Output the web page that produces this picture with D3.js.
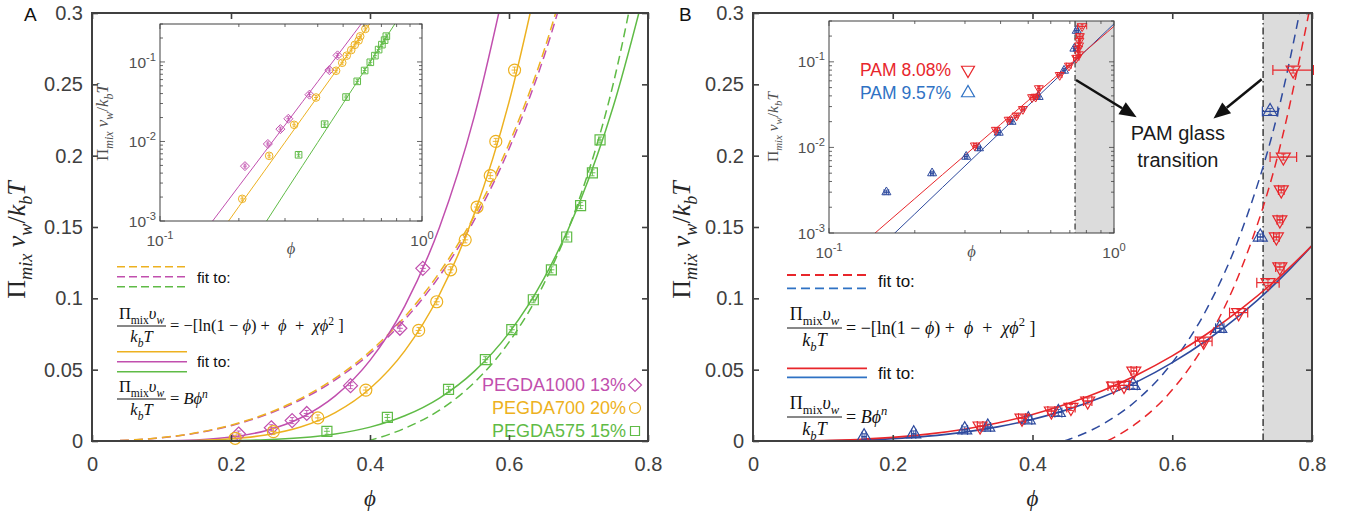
<!DOCTYPE html>
<html>
<head>
<meta charset="utf-8">
<script src="https://cdn.jsdelivr.net/npm/d3@7/dist/d3.min.js"></script>
<style>
  body { margin: 0; background: #fff; }
  svg { display: block; }
  text { white-space: pre; }
</style>
</head>
<body>
<svg id="chart" width="1351" height="512"></svg>
<script>
// ---------- axis ticks ----------
const xTicks = [0, 0.2, 0.4, 0.6, 0.8];
const xTickLabels = ['0', '0.2', '0.4', '0.6', '0.8'];
const yTicks = [0, 0.05, 0.1, 0.15, 0.2, 0.25, 0.3];
const yTickLabels = ['0', '0.05', '0.1', '0.15', '0.2', '0.25', '0.3'];

// ---------- panel A : measured points ----------
const pegda1000Phi = [0.211, 0.258, 0.288, 0.309, 0.372, 0.443, 0.476];
const pegda1000Pi  = [0.0049, 0.0093, 0.0143, 0.0193, 0.0388, 0.0790, 0.1210];
const pegda700Phi  = [0.206, 0.261, 0.325, 0.394, 0.470, 0.496, 0.516, 0.537, 0.554, 0.573, 0.581, 0.608];
const pegda700Pi   = [0.0019, 0.0066, 0.0162, 0.0357, 0.0775, 0.0976, 0.1200, 0.1410, 0.1640, 0.1860, 0.2100, 0.2600];
const pegda575Phi  = [0.338, 0.425, 0.513, 0.566, 0.604, 0.635, 0.661, 0.683, 0.703, 0.720, 0.731];
const pegda575Pi   = [0.0068, 0.0165, 0.0362, 0.0570, 0.0780, 0.0990, 0.1200, 0.1430, 0.1650, 0.1880, 0.2110];

// panel A : fit curves
const fitGridA     = [0, 0.05, 0.1, 0.15, 0.2, 0.25, 0.3, 0.35, 0.4, 0.45, 0.5, 0.55, 0.6, 0.65, 0.7, 0.75, 0.8];
const pegda1000Pow = [0, 0.000006, 0.00013, 0.00078, 0.00274, 0.00725, 0.0161, 0.0316, 0.0565, 0.0946, 0.1499, 0.2274, 0.3326];
const pegda700Pow  = [0, 0.0000026, 0.000063, 0.0004, 0.00152, 0.00423, 0.00978, 0.0199, 0.0368, 0.0632, 0.1027, 0.1592, 0.2375, 0.3432];
const pegda575Pow  = [0, 0.00000026, 0.0000087, 0.000068, 0.00029, 0.0009, 0.00228, 0.00496, 0.00974, 0.01768, 0.03013, 0.0488, 0.0758, 0.1137, 0.1653, 0.2344, 0.325];
const pegda1000FH  = [0, 0.00052, 0.00226, 0.00554, 0.01074, 0.01831, 0.02877, 0.04281, 0.06123, 0.08506, 0.11565, 0.15474, 0.20469, 0.26885, 0.35207];
const pegda700FH   = [0, 0.00054, 0.00236, 0.00577, 0.01114, 0.01893, 0.02967, 0.04403, 0.06283, 0.08709, 0.11815, 0.15776, 0.20829, 0.27307, 0.35697];
const pegda575FHPhi = [0.397, 0.45, 0.5, 0.55, 0.6, 0.65, 0.7, 0.75, 0.8];
const pegda575FH    = [0, 0.0089, 0.0216, 0.041, 0.0693, 0.11, 0.1679, 0.2504, 0.3704];

// ---------- panel B : measured points ----------
const pam808Phi  = [0.325, 0.385, 0.427, 0.455, 0.479, 0.516, 0.531, 0.545, 0.645, 0.695, 0.737, 0.754, 0.749, 0.754, 0.756, 0.759, 0.773];
const pam808Pi   = [0.0105, 0.016, 0.021, 0.0235, 0.028, 0.0385, 0.039, 0.049, 0.070, 0.090, 0.111, 0.122, 0.143, 0.155, 0.176, 0.199, 0.260];
const pam808Err  = [0.004, 0.005, 0.005, 0.006, 0.006, 0.008, 0.008, 0.004, 0.012, 0.013, 0.016, 0.006, 0.004, 0.004, 0.004, 0.019, 0.029];
const pam957Phi  = [0.159, 0.230, 0.303, 0.336, 0.394, 0.437, 0.544, 0.668, 0.726, 0.740];
const pam957Pi   = [0.003, 0.005, 0.0078, 0.0098, 0.0149, 0.020, 0.039, 0.079, 0.143, 0.231];
const pam957Err  = [0.003, 0.003, 0.004, 0.004, 0.005, 0.005, 0.006, 0.006, 0.004, 0.011];

// panel B : fit curves
const fitGridB   = [0.05, 0.1, 0.15, 0.2, 0.25, 0.3, 0.35, 0.4, 0.45, 0.5, 0.55, 0.6, 0.65, 0.7, 0.75, 0.8, 0.85, 0.9, 0.95, 1.0];
const pam808Pow  = [0.000046, 0.00034, 0.0011, 0.00252, 0.0048, 0.0081, 0.01265, 0.01857, 0.0261, 0.0353, 0.0465, 0.0597, 0.0752, 0.0931, 0.1135, 0.137, 0.1628, 0.192, 0.2243, 0.26];
const pam957Pow  = [0.000021, 0.000185, 0.00067, 0.00167, 0.0034, 0.00607, 0.0099, 0.01514, 0.022, 0.0308, 0.0416, 0.0549, 0.0708, 0.0895, 0.1115, 0.137, 0.1659, 0.199, 0.2362, 0.278];
const pam808FHPhi = [0.507, 0.52, 0.55, 0.6, 0.65, 0.7, 0.75, 0.8];
const pam808FH    = [0, 0.0033, 0.01286, 0.03585, 0.07069, 0.12226, 0.1981, 0.31088];
const pam957FHPhi = [0.445, 0.45, 0.5, 0.55, 0.6, 0.65, 0.7, 0.75, 0.8];
const pam957FH    = [0, 0.0008, 0.01165, 0.02889, 0.05493, 0.09308, 0.14823, 0.22791, 0.3448];
const glassPhi = 0.73;

// ---------- styles ----------
const SANS = "'Liberation Sans', Arial, Helvetica, sans-serif";
const SERIF = "'Liberation Serif', 'DejaVu Serif', 'Times New Roman', serif";
const AX = '#404040';
const COL = {
    magenta: '#C14FAE', yellow: '#EDB120', green: '#5FBB46',
    red: '#E8262B', blue: '#2E4A9E', blueLeg: '#2F72C4', shade: '#DCDCDC'
};

const svg = d3.select('#chart');
const defs = svg.append('defs');

// ---------- helpers ----------
const zip = (xs, ys) => ys.map((v, i) => [xs[i], v]);

function addClip(id, w, h) {
    defs.append('clipPath').attr('id', id).append('rect').attr('width', w).attr('height', h);
}

function markerPath(shape, s) {
    const t = s * 0.577;
    switch (shape) {
        case 'diamond': return `M0,${-s}L${s},0L0,${s}L${-s},0Z`;
        case 'circle': return `M${-s},0A${s},${s} 0 1,0 ${s},0A${s},${s} 0 1,0 ${-s},0Z`;
        case 'square': return `M${-s},${-s}H${s}V${s}H${-s}Z`;
        case 'down': return `M${-s},${-t}L${s},${-t}L0,${2 * t}Z`;
        case 'up': return `M${-s},${t}L${s},${t}L0,${-2 * t}Z`;
    }
}

// text made of pieces: [string, {it, sub, sup}]
function mathText(t, parts, fs) {
    let shift = 0;
    parts.forEach(([s, o = {}]) => {
        const target = o.sub ? fs * 0.28 : o.sup ? -fs * 0.42 : 0;
        const sp = t.append('tspan').attr('dy', target - shift).text(s);
        shift = target;
        if (o.it) sp.attr('font-style', 'italic');
        if (o.sub || o.sup) sp.attr('font-size', fs * 0.7);
    });
}

const labelParts = [['Π'], ['mix', { it: 1, sub: 1 }], [' '], ['v', { it: 1 }], ['w', { it: 1, sub: 1 }],
                    ['/'], ['k', { it: 1 }], ['b', { it: 1, sub: 1 }], ['T', { it: 1 }]];

function rotatedLabel(g, cx, cy, fs, color) {
    const t = g.append('text')
        .attr('transform', `translate(${cx},${cy}) rotate(-90)`)
        .attr('text-anchor', 'middle')
        .attr('font-family', SERIF)
        .attr('font-size', fs)
        .attr('fill', color);
    mathText(t, labelParts, fs);
}

function drawCurve(g, x, y, pts, color, dash, lw) {
    g.append('path')
        .datum(pts)
        .attr('fill', 'none')
        .attr('stroke', color)
        .attr('stroke-width', lw || 1.5)
        .attr('stroke-dasharray', dash || null)
        .attr('d', d3.line().x(d => x(d[0])).y(d => y(d[1])).curve(d3.curveMonotoneX));
}

function drawPoints(g, x, y, phi, val, o) {
    const pts = val.map((v, i) => ({
        px: x(phi[i]), py: y(v),
        lo: o.xerr ? x(phi[i] - o.xerr[i]) : 0,
        hi: o.xerr ? x(phi[i] + o.xerr[i]) : 0
    }));
    const gg = g.append('g').attr('stroke', o.color).attr('fill', 'none').attr('stroke-width', o.lw || 1.2);
    const c = o.cross;
    if (o.xerr) {
        const cap = o.cap || 4;
        gg.selectAll('line.eh').data(pts).join('line').attr('class', 'eh')
            .attr('x1', d => d.lo).attr('x2', d => d.hi).attr('y1', d => d.py).attr('y2', d => d.py);
        gg.selectAll('line.cl').data(pts).join('line').attr('class', 'cl')
            .attr('x1', d => d.lo).attr('x2', d => d.lo).attr('y1', d => d.py - cap).attr('y2', d => d.py + cap);
        gg.selectAll('line.cr').data(pts).join('line').attr('class', 'cr')
            .attr('x1', d => d.hi).attr('x2', d => d.hi).attr('y1', d => d.py - cap).attr('y2', d => d.py + cap);
    }
    if (c) {
        gg.selectAll('path.cr').data(pts).join('path').attr('class', 'cr')
            .attr('d', d => `M${d.px - c},${d.py}H${d.px + c}M${d.px},${d.py - c}V${d.py + c}` +
                            `M${d.px - c * 0.7},${d.py - c}H${d.px + c * 0.7}M${d.px - c * 0.7},${d.py + c}H${d.px + c * 0.7}`)
            .attr('stroke-width', 0.9);
    }
    gg.selectAll('path.m').data(pts).join('path').attr('class', 'm')
        .attr('transform', d => `translate(${d.px},${d.py})`)
        .attr('d', markerPath(o.shape, o.size));
}

function mainAxes(g, x, y, w, h) {
    const style = a => {
        a.select('.domain').remove();
        a.selectAll('line').attr('stroke', AX).attr('stroke-width', 1.6);
        a.selectAll('text').attr('font-family', SANS).attr('font-size', 20).attr('fill', AX);
    };
    g.append('g').attr('transform', `translate(0,${h})`)
        .call(d3.axisBottom(x).tickValues(xTicks).tickFormat(d => xTickLabels[xTicks.indexOf(d)])
            .tickSize(-6).tickSizeOuter(0).tickPadding(16))
        .call(style);
    g.append('g')
        .call(d3.axisTop(x).tickValues(xTicks).tickFormat('').tickSize(-6).tickSizeOuter(0))
        .call(style);
    g.append('g')
        .call(d3.axisLeft(y).tickValues(yTicks).tickFormat(d => yTickLabels[yTicks.indexOf(d)])
            .tickSize(-6).tickSizeOuter(0).tickPadding(9))
        .call(style);
    g.append('g').attr('transform', `translate(${w},0)`)
        .call(d3.axisRight(y).tickValues(yTicks).tickFormat('').tickSize(-6).tickSizeOuter(0))
        .call(style);
    g.append('rect').attr('width', w).attr('height', h)
        .attr('fill', 'none').attr('stroke', AX).attr('stroke-width', 2);
}

function logAxes(g, x, y, w, h, o) {
    const isMajor = d => Math.abs(Math.log10(d) - Math.round(Math.log10(d))) < 1e-9;
    const tk = g.append('g').attr('stroke', AX).attr('stroke-width', 0.8);
    x.ticks().forEach(d => {
        const L = isMajor(d) ? 5 : 3;
        tk.append('line').attr('x1', x(d)).attr('x2', x(d)).attr('y1', h).attr('y2', h - L);
        tk.append('line').attr('x1', x(d)).attr('x2', x(d)).attr('y1', 0).attr('y2', L);
    });
    y.ticks().forEach(d => {
        const L = isMajor(d) ? 5 : 3;
        tk.append('line').attr('y1', y(d)).attr('y2', y(d)).attr('x1', 0).attr('x2', L);
        tk.append('line').attr('y1', y(d)).attr('y2', y(d)).attr('x1', w).attr('x2', w - L);
    });
    g.append('rect').attr('width', w).attr('height', h)
        .attr('fill', 'none').attr('stroke', AX).attr('stroke-width', 1);

    const pow10 = (t, d) => {
        t.append('tspan').text('10');
        t.append('tspan').attr('dy', -o.fs * 0.45).attr('font-size', o.fs * 0.72)
            .text(String(Math.round(Math.log10(d))));
    };
    const labs = g.append('g').attr('font-family', SANS).attr('font-size', o.fs).attr('fill', '#505050');
    y.ticks().filter(isMajor).forEach(d => {
        pow10(labs.append('text').attr('x', -4).attr('y', y(d) + o.fs * 0.36).attr('text-anchor', 'end'), d);
    });
    x.ticks().filter(isMajor).forEach(d => {
        pow10(labs.append('text').attr('x', x(d)).attr('y', h + o.xlab).attr('text-anchor', 'middle'), d);
    });
    g.append('text').attr('x', w / 2).attr('y', h + o.philab).attr('text-anchor', 'middle')
        .attr('font-family', SERIF).attr('font-style', 'italic').attr('font-size', o.fs + 1)
        .attr('fill', '#505050').text('ϕ');
    rotatedLabel(g, o.ylab, h / 2, o.lfs, '#505050');
}

function fraction(g, x0, yBar, barW, fs, rhs) {
    const tx = g.append('g').attr('font-family', SERIF).attr('font-size', fs).attr('fill', '#111');
    const num = tx.append('text').attr('x', x0 + barW / 2).attr('y', yBar - fs * 0.42).attr('text-anchor', 'middle');
    mathText(num, [['Π'], ['mix', { sub: 1 }], ['υ', { it: 1 }], ['w', { it: 1, sub: 1 }]], fs);
    tx.append('line').attr('x1', x0).attr('x2', x0 + barW).attr('y1', yBar).attr('y2', yBar)
        .attr('stroke', '#111').attr('stroke-width', 1);
    const den = tx.append('text').attr('x', x0 + barW / 2).attr('y', yBar + fs * 0.98).attr('text-anchor', 'middle');
    mathText(den, [['k', { it: 1 }], ['b', { it: 1, sub: 1 }], ['T', { it: 1 }]], fs);
    const r = tx.append('text').attr('x', x0 + barW + 4).attr('y', yBar + fs * 0.33);
    mathText(r, rhs, fs);
}

const rhsFH = [['= −[ln(1 − '], ['ϕ', { it: 1 }], [') +  '], ['ϕ', { it: 1 }], ['  +  '],
               ['χϕ', { it: 1 }], ['2', { sup: 1 }], [' ]']];
const rhsPow = [['= '], ['Bϕ', { it: 1 }], ['n', { it: 1, sup: 1 }]];

function legendLines(g, x0, len, ys, colors, dash, lw) {
    ys.forEach((yy, i) => {
        g.append('line').attr('x1', x0).attr('x2', x0 + len).attr('y1', yy).attr('y2', yy)
            .attr('stroke', colors[i]).attr('stroke-width', lw || 1.5).attr('stroke-dasharray', dash || null);
    });
}

function fitTo(g, x, y, fs) {
    g.append('text').attr('x', x).attr('y', y).attr('font-family', SANS).attr('font-size', fs)
        .attr('fill', '#111').text('fit to:');
}

function arrow(g, x1, y1, x2, y2) {
    const a = Math.atan2(y2 - y1, x2 - x1), L = 17, W = 7;
    const bx = x2 - L * Math.cos(a), by = y2 - L * Math.sin(a);
    g.append('line').attr('x1', x1).attr('y1', y1).attr('x2', bx).attr('y2', by)
        .attr('stroke', '#111').attr('stroke-width', 2.5);
    g.append('path')
        .attr('d', `M${x2},${y2}L${bx + W * Math.sin(a)},${by - W * Math.cos(a)}L${bx - W * Math.sin(a)},${by + W * Math.cos(a)}Z`)
        .attr('fill', '#111');
}

// =================== PANEL A ===================
const A = { left: 92, top: 13, w: 556, h: 428 };
const gA = svg.append('g').attr('transform', `translate(${A.left},${A.top})`);
const xA = d3.scaleLinear().domain([0, 0.8]).range([0, A.w]);
const yA = d3.scaleLinear().domain([0, 0.3]).range([A.h, 0]);
addClip('clipA', A.w, A.h);

const seriesA = [
    { phi: pegda1000Phi, val: pegda1000Pi, pow: pegda1000Pow, fh: pegda1000FH, fhPhi: fitGridA,
      color: COL.magenta, shape: 'diamond', size: 7, isize: 4.5, label: 'PEGDA1000 13%' },
    { phi: pegda700Phi, val: pegda700Pi, pow: pegda700Pow, fh: pegda700FH, fhPhi: fitGridA,
      color: COL.yellow, shape: 'circle', size: 6, isize: 3.8, label: 'PEGDA700 20%' },
    { phi: pegda575Phi, val: pegda575Pi, pow: pegda575Pow, fh: pegda575FH, fhPhi: pegda575FHPhi,
      color: COL.green, shape: 'square', size: 5, isize: 3.3, label: 'PEGDA575 15%' }
];

const plotA = gA.append('g').attr('clip-path', 'url(#clipA)');
seriesA.forEach(s => drawCurve(plotA, xA, yA, zip(s.fhPhi, s.fh), s.color, '9,5'));
seriesA.forEach(s => drawCurve(plotA, xA, yA, zip(fitGridA, s.pow), s.color, null));
seriesA.forEach(s => drawPoints(gA, xA, yA, s.phi, s.val, { color: s.color, shape: s.shape, size: s.size, cross: 3 }));

// fit legend (left)
legendLines(gA, 25, 70, [253.7, 263.7, 273.7], [COL.yellow, COL.magenta, COL.green], '8,4');
fitTo(gA, 105, 270, 15.5);
fraction(gA, 25, 313, 49, 16.5, rhsFH);
legendLines(gA, 25, 70, [338.7, 348.7, 358.7], [COL.yellow, COL.magenta, COL.green]);
fitTo(gA, 105, 354, 15.5);
fraction(gA, 25, 386, 49, 16.5, rhsPow);

// series legend (bottom right)
seriesA.forEach((s, i) => {
    const yy = 372 + i * 23;
    gA.append('text').attr('x', 534).attr('y', yy + 6).attr('text-anchor', 'end')
        .attr('font-family', SANS).attr('font-size', 18).attr('fill', s.color).text(s.label);
    gA.append('path').attr('transform', `translate(543,${yy})`).attr('d', markerPath(s.shape, s.size - 0.5))
        .attr('fill', 'none').attr('stroke', s.color).attr('stroke-width', 1.2);
});

mainAxes(gA, xA, yA, A.w, A.h);

// inset A
const IA = { left: 68, top: 11, w: 262, h: 197 };
const gIA = gA.append('g').attr('transform', `translate(${IA.left},${IA.top})`);
gIA.append('rect').attr('width', IA.w).attr('height', IA.h).attr('fill', '#fff');
const xIA = d3.scaleLog().domain([0.1, 1]).range([0, IA.w]);
const yIA = d3.scaleLog().domain([1e-3, 0.3]).range([IA.h, 0]);
addClip('clipIA', IA.w, IA.h);
const plotIA = gIA.append('g').attr('clip-path', 'url(#clipIA)');
seriesA.forEach(s => drawCurve(plotIA, xIA, yIA, zip(fitGridA, s.pow).filter(d => d[1] > 0), s.color, null, 1));
seriesA.forEach(s => drawPoints(gIA, xIA, yIA, s.phi, s.val, { color: s.color, shape: s.shape, size: s.isize, cross: 2, lw: 1 }));
logAxes(gIA, xIA, yIA, IA.w, IA.h, { fs: 15.5, xlab: 25, philab: 33, ylab: -52, lfs: 17 });

rotatedLabel(svg, 25, 240, 26, '#262626');
svg.append('text').attr('x', A.left + A.w / 2).attr('y', 506).attr('text-anchor', 'middle')
    .attr('font-family', SERIF).attr('font-style', 'italic').attr('font-size', 23).attr('fill', '#262626').text('ϕ');
svg.append('text').attr('x', 24).attr('y', 21).attr('font-family', SANS).attr('font-size', 19).attr('fill', '#111').text('A');

// =================== PANEL B ===================
const B = { left: 753, top: 13, w: 559, h: 428 };
const gB = svg.append('g').attr('transform', `translate(${B.left},${B.top})`);
const xB = d3.scaleLinear().domain([0, 0.8]).range([0, B.w]);
const yB = d3.scaleLinear().domain([0, 0.3]).range([B.h, 0]);
addClip('clipB', B.w, B.h);

const seriesB = [
    { phi: pam808Phi, val: pam808Pi, err: pam808Err, pow: pam808Pow, fh: pam808FH, fhPhi: pam808FHPhi,
      color: COL.red, leg: COL.red, shape: 'down', label: 'PAM 8.08%' },
    { phi: pam957Phi, val: pam957Pi, err: pam957Err, pow: pam957Pow, fh: pam957FH, fhPhi: pam957FHPhi,
      color: COL.blue, leg: COL.blueLeg, shape: 'up', label: 'PAM 9.57%' }
];

const plotB = gB.append('g').attr('clip-path', 'url(#clipB)');
plotB.append('rect').attr('x', xB(glassPhi)).attr('width', B.w - xB(glassPhi)).attr('height', B.h).attr('fill', COL.shade);
plotB.append('line').attr('x1', xB(glassPhi)).attr('x2', xB(glassPhi)).attr('y1', 0).attr('y2', B.h)
    .attr('stroke', '#222').attr('stroke-width', 1.3).attr('stroke-dasharray', '7,3,1.5,3');
seriesB.forEach(s => drawCurve(plotB, xB, yB, zip(s.fhPhi, s.fh), s.color, '9,6'));
seriesB.slice().reverse().forEach(s => drawCurve(plotB, xB, yB, zip(fitGridB, s.pow), s.color, null, 1.6));
seriesB.slice().reverse().forEach(s => drawPoints(gB, xB, yB, s.phi, s.val,
    { color: s.color, shape: s.shape, size: 7, xerr: s.err, cap: 5, cross: 3 }));

// fit legend
legendLines(gB, 34, 80, [262, 275.3], [COL.red, COL.blueLeg], '9,5', 1.8);
fitTo(gB, 125, 274, 17);
fraction(gB, 34, 315, 55, 18, rhsFH);
legendLines(gB, 34, 80, [355.3, 364.3], [COL.red, COL.blueLeg], null, 1.8);
fitTo(gB, 125, 366, 17);
fraction(gB, 34, 404, 55, 18, rhsPow);

mainAxes(gB, xB, yB, B.w, B.h);

// inset B
const IB = { left: 76, top: 8, w: 285, h: 212 };
const gIB = gB.append('g').attr('transform', `translate(${IB.left},${IB.top})`);
gIB.append('rect').attr('width', IB.w).attr('height', IB.h).attr('fill', '#fff');
const xIB = d3.scaleLog().domain([0.1, 1]).range([0, IB.w]);
const yIB = d3.scaleLog().domain([1e-3, 0.3]).range([IB.h, 0]);
addClip('clipIB', IB.w, IB.h);
const plotIB = gIB.append('g').attr('clip-path', 'url(#clipIB)');
plotIB.append('rect').attr('x', xIB(glassPhi)).attr('width', IB.w - xIB(glassPhi)).attr('height', IB.h).attr('fill', COL.shade);
plotIB.append('line').attr('x1', xIB(glassPhi)).attr('x2', xIB(glassPhi)).attr('y1', 0).attr('y2', IB.h)
    .attr('stroke', '#222').attr('stroke-width', 1.1).attr('stroke-dasharray', '6,3,1.5,3');
seriesB.slice().reverse().forEach(s => drawCurve(plotIB, xIB, yIB, zip(fitGridB, s.pow), s.color, null, 1));
seriesB.slice().reverse().forEach(s => drawPoints(gIB, xIB, yIB, s.phi, s.val,
    { color: s.color, shape: s.shape, size: 4.5, xerr: s.err, cap: 3, cross: 2, lw: 1 }));
logAxes(gIB, xIB, yIB, IB.w, IB.h, { fs: 15.5, xlab: 25, philab: 24, ylab: -51, lfs: 15.5 });

seriesB.forEach((s, i) => {
    const yy = 49 + i * 23;
    gIB.append('text').attr('x', 31).attr('y', yy + 6).attr('font-family', SANS).attr('font-size', 17.5)
        .attr('fill', s.leg).text(s.label);
    gIB.append('path').attr('transform', `translate(139,${yy})`).attr('d', markerPath(s.shape, 6.5))
        .attr('fill', 'none').attr('stroke', s.leg).attr('stroke-width', 1.2);
});

// glass transition annotation
arrow(gB, xB(0.4623), yB(0.253), xB(0.549), yB(0.227));
arrow(gB, xB(0.728), yB(0.2535), xB(0.659), yB(0.226));
const ann = gB.append('text').attr('text-anchor', 'middle').attr('font-family', SANS).attr('font-size', 20).attr('fill', '#1a1a1a');
ann.append('tspan').attr('x', xB(0.608)).attr('y', yB(0.211)).text('PAM glass');
ann.append('tspan').attr('x', xB(0.608)).attr('y', yB(0.192)).text('transition');

rotatedLabel(svg, 690, 240, 26, '#262626');
svg.append('text').attr('x', B.left + B.w / 2).attr('y', 506).attr('text-anchor', 'middle')
    .attr('font-family', SERIF).attr('font-style', 'italic').attr('font-size', 23).attr('fill', '#262626').text('ϕ');
svg.append('text').attr('x', 679).attr('y', 21).attr('font-family', SANS).attr('font-size', 19).attr('fill', '#111').text('B');
</script>
</body>
</html>
